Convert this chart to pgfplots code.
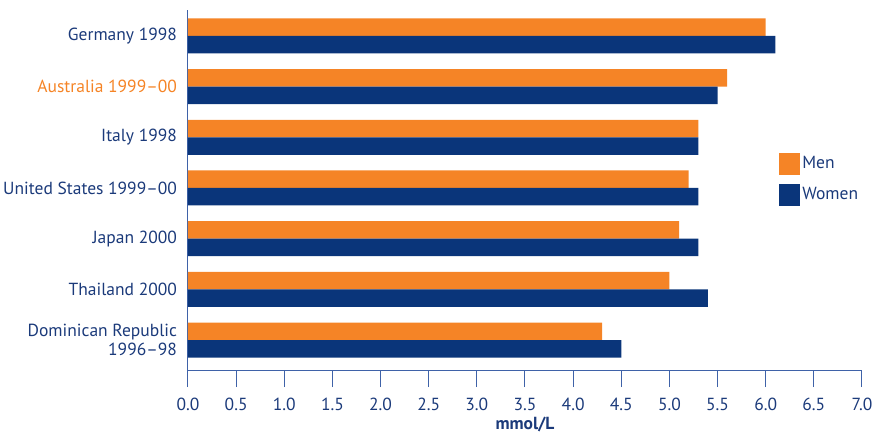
\documentclass[border=0pt]{standalone}
\usepackage{pgfplots}
\pgfplotsset{compat=1.18}
\usepackage{fontspec}
\setmainfont{PT Sans}
\definecolor{menorange}{HTML}{F58426}
\definecolor{womennavy}{HTML}{0A357A}
\definecolor{textnavy}{HTML}{1B3A7A}
\definecolor{axisblue}{HTML}{3F62A8}
\begin{document}
\begin{tikzpicture}[x=1pt,y=1pt]
\fontsize{17.5}{19}\selectfont
\begin{axis}[
  at={(188pt,-370pt)}, anchor=south west,
  scale only axis, width=674pt, height=360pt,
  xmin=0, xmax=7, ymin=-0.51, ymax=6.59,
  y dir=reverse,
  axis x line*=bottom, axis y line*=left,
  axis line style={axisblue, line width=1pt},
  xtick={0,0.5,...,7},
  xticklabel style={/pgf/number format/fixed, /pgf/number format/fixed zerofill,
    /pgf/number format/precision=1, /pgf/number format/assume math mode=true,
    text=textnavy, font=\fontsize{17.5}{19}\selectfont, yshift=-5pt},
  tick style={axisblue, line width=1pt},
  major tick length=17pt,
  xtick pos=bottom, tick align=outside,
  ytick={0,1,2,3,4,5,6},
  yticklabels={Germany 1998, {\color{menorange}Australia 1999--00}, Italy 1998, United States 1999--00, Japan 2000, Thailand 2000, {Dominican Republic\\1996--98}},
  yticklabel style={text=textnavy, font=\fontsize{17.5}{19}\selectfont, align=right, xshift=12pt},
  ytick style={draw=none},
  xlabel={\textbf{mmol/L}},
  xlabel style={text=textnavy, font=\fontsize{17.5}{19}\selectfont, yshift=6pt},
  xbar, bar width=0.345,
  legend style={at={(rel axis cs:0.877,0.603)}, anchor=north west, draw=none, fill=none,
    inner sep=0pt, font=\fontsize{17.5}{19}\selectfont, text=textnavy, row sep=9pt,
    legend cell align=left},
  legend image code/.code={\fill[#1] (0pt,-11pt) rectangle (21pt,11pt);},
]
\addplot[draw=none, fill=menorange, bar shift=-0.1725] coordinates {
  (6.0,0) (5.6,1) (5.3,2) (5.2,3) (5.1,4) (5.0,5) (4.3,6)};
\addplot[draw=none, fill=womennavy, bar shift=0.1725] coordinates {
  (6.1,0) (5.5,1) (5.3,2) (5.3,3) (5.3,4) (5.4,5) (4.5,6)};
\legend{Men, Women}
\end{axis}
\pgfresetboundingbox
\path[use as bounding box] (0,0) rectangle (876,-433);
\end{tikzpicture}
\end{document}
